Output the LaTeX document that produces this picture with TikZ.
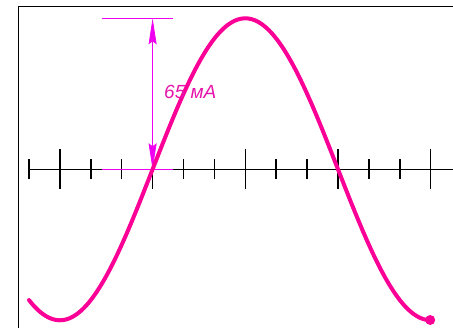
\documentclass[tikz,border=0pt]{standalone}
\usepackage{fontspec}
\setmainfont{Liberation Sans}
\usetikzlibrary{arrows.meta, positioning, calc}
\definecolor{wavepink}{RGB}{250,0,150}
\definecolor{dimpink}{RGB}{240,0,240}
\definecolor{labelpink}{RGB}{230,20,170}
\tikzset{
    frame/.style={draw=black, line width=1pt},
    axisline/.style={draw=black, line width=1.4pt},
    minortick/.style={draw=black, line width=1.5pt},
    majortick/.style={draw=black, line width=1.5pt},
    wave/.style={draw=wavepink, line width=4pt, line cap=round, line join=round},
    dimline/.style={draw=dimpink, line width=0.8pt},
    dimarrow/.style={draw=dimpink, line width=0.8pt, {Stealth[length=26pt, width=8pt, inset=3pt, fill=dimpink]}-{Stealth[length=26pt, width=8pt, inset=3pt, fill=dimpink]}},
    valuelabel/.style={text=labelpink, font=\fontsize{19}{23}\selectfont\itshape, inner sep=1pt}
}

\begin{document}
\begin{tikzpicture}[x=1pt, y=-1pt]

                \useasboundingbox (0,0) rectangle (453,328);

                % Screen frame
                \coordinate (frame_bl) at (18.3, 330);
                \coordinate (frame_tl) at (18.3, 7);
                \coordinate (frame_tr) at (455, 7);
                \draw [frame] (frame_bl) -- (frame_tl) -- (frame_tr);

                % Time axis
                \coordinate (axis_start) at (29, 169.3);
                \coordinate (axis_end) at (455, 169.3);
                \draw [axisline] (axis_start) -- (axis_end);

                % Ticks (long one on every third)
                \foreach \i in {0,...,13} {
                        \pgfmathsetmacro{\tx}{29 + \i*30.9}
                        \pgfmathtruncatemacro{\ismajor}{mod(\i,3)==1 ? 1 : 0}
                        \ifnum\ismajor=1
                            \draw [majortick] (\tx, 149.3) -- (\tx, 189.3);
                        \else
                            \draw [minortick] (\tx, 159.3) -- (\tx, 179.3);
                        \fi
                    }

                % Amplitude dimension
                \coordinate (dim_top_left) at (101.7, 18.3);
                \coordinate (dim_top_right) at (173.3, 18.3);
                \coordinate (dim_bot_left) at (101.7, 169.3);
                \coordinate (dim_bot_right) at (173.3, 169.3);
                \coordinate (dim_top) at (152.6, 18.3);
                \coordinate (dim_bot) at (152.6, 169.3);
                \draw [dimline] (dim_top_left) -- (dim_top_right);
                \draw [dimline] (dim_bot_left) -- (dim_bot_right);
                \draw [dimarrow] (dim_top) -- (dim_bot);

                % Current waveform
                \draw [wave] plot [domain=29:430.7, samples=120, smooth] (\x, {169.3 - 151*sin((\x - 152.6)/185.4*180)});
                \node (wave_end) [circle, fill=wavepink, inner sep=0pt, minimum size=10pt] at (430.2, 320) {};

                % Value label
                \node (amp_label) [valuelabel, anchor=west] at (163, 92) {65 мА};

            \end{tikzpicture}
\end{document}
